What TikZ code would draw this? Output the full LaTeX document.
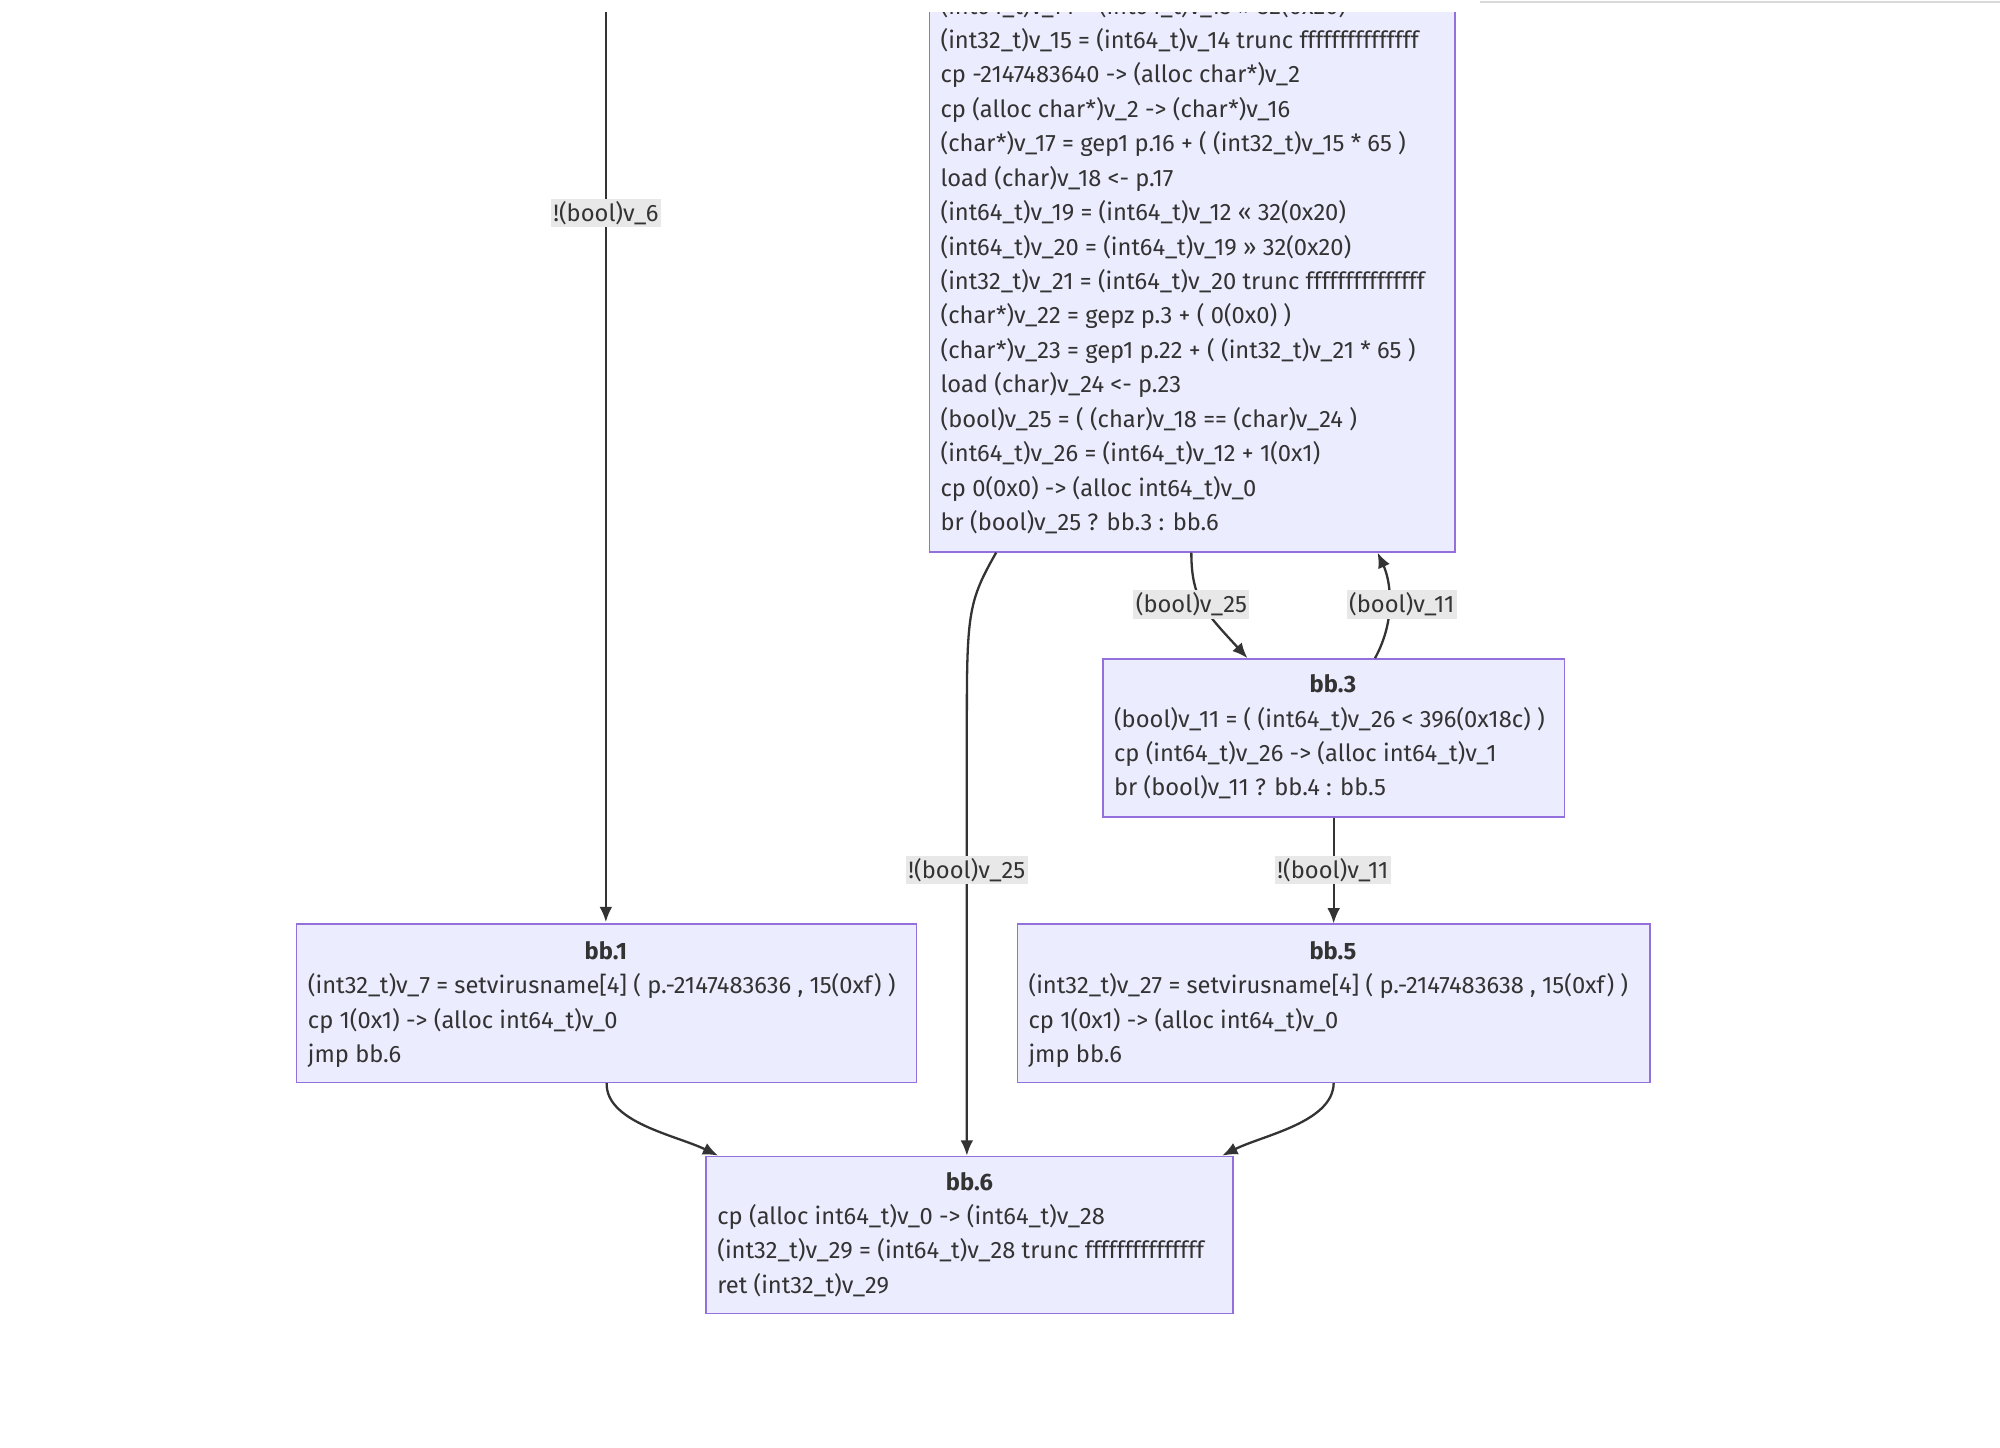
\documentclass[tikz,border=0pt]{standalone}
\usepackage{fontspec}
\setmainfont{Fira Sans}
\usetikzlibrary{arrows.meta}
\definecolor{boxfill}{HTML}{ECECFF}
\definecolor{boxline}{HTML}{9370DB}
\definecolor{edge}{HTML}{333333}
\definecolor{lblbg}{HTML}{E8E8E8}
\begin{document}
\begin{tikzpicture}[x=0.5pt,y=-0.5pt,
  blk/.style={draw=boxline,fill=boxfill,line width=0.6pt,inner sep=0pt,anchor=north west},
  ttl/.style={font=\fontsize{9.3}{13.5}\selectfont\bfseries,text=edge,anchor=base,inner sep=0pt},
  body/.style={font=\fontsize{9.3}{13.5}\selectfont,text=edge,align=left,anchor=base west,inner sep=0pt},
  lbl/.style={font=\fontsize{9.3}{10}\selectfont,text=edge,fill=lblbg,inner sep=1pt},
  arr/.style={draw=edge,line width=0.9pt,-{Latex[length=6pt,width=5pt]}}]
\useasboundingbox (0,0) rectangle (1568,1135);
\draw[gray!30,line width=0.8pt] (1160,1.5) -- (1568,1.5);
\begin{scope}
\clip (0,10) rectangle (1568,1135);
% top block
\node[blk,minimum width=206pt,minimum height=236pt] (top) at (728,-40) {};
\node[body] (topt) at (737,416) {(int64\_t)v\_14 = (int64\_t)v\_13 >> 32(0x20)\\
(int32\_t)v\_15 = (int64\_t)v\_14 trunc fffffffffffffff\\
cp -2147483640 -> (alloc char*)v\_2\\
cp (alloc char*)v\_2 -> (char*)v\_16\\
(char*)v\_17 = gep1 p.16 + ( (int32\_t)v\_15 * 65 )\\
load (char)v\_18 <- p.17\\
(int64\_t)v\_19 = (int64\_t)v\_12 << 32(0x20)\\
(int64\_t)v\_20 = (int64\_t)v\_19 >> 32(0x20)\\
(int32\_t)v\_21 = (int64\_t)v\_20 trunc fffffffffffffff\\
(char*)v\_22 = gepz p.3 + ( 0(0x0) )\\
(char*)v\_23 = gep1 p.22 + ( (int32\_t)v\_21 * 65 )\\
load (char)v\_24 <- p.23\\
(bool)v\_25 = ( (char)v\_18 == (char)v\_24 )\\
(int64\_t)v\_26 = (int64\_t)v\_12 + 1(0x1)\\
cp 0(0x0) -> (alloc int64\_t)v\_0\\
br (bool)v\_25 ? bb.3 : bb.6};
\coordinate (src6) at (475,-40);
\draw[arr] (src6) -- (475,723) coordinate (dst1);
\end{scope}
% bb.3
\node[blk,minimum width=181pt,minimum height=62pt] (bb3) at (864,516) {};
\node[ttl] (bb3t) at (1045,543) {bb.3};
\node[body] (bb3b) at (873,624) {(bool)v\_11 = ( (int64\_t)v\_26 < 396(0x18c) )\\
cp (int64\_t)v\_26 -> (alloc int64\_t)v\_1\\
br (bool)v\_11 ? bb.4 : bb.5};
% bb.1
\node[blk,minimum width=243pt,minimum height=62pt] (bb1) at (232,724) {};
\node[ttl] (bb1t) at (475,752) {bb.1};
\node[body] (bb1b) at (241,833) {(int32\_t)v\_7 = setvirusname[4] ( p.-2147483636 , 15(0xf) )\\
cp 1(0x1) -> (alloc int64\_t)v\_0\\
jmp bb.6};
% bb.5
\node[blk,minimum width=248pt,minimum height=62pt] (bb5) at (797,724) {};
\node[ttl] (bb5t) at (1045,752) {bb.5};
\node[body] (bb5b) at (806,833) {(int32\_t)v\_27 = setvirusname[4] ( p.-2147483638 , 15(0xf) )\\
cp 1(0x1) -> (alloc int64\_t)v\_0\\
jmp bb.6};
% bb.6
\node[blk,minimum width=206.5pt,minimum height=61.5pt] (bb6) at (553,906) {};
\node[ttl] (bb6t) at (760,933) {bb.6};
\node[body] (bb6b) at (562,1014) {cp (alloc int64\_t)v\_0 -> (int64\_t)v\_28\\
(int32\_t)v\_29 = (int64\_t)v\_28 trunc fffffffffffffff\\
ret (int32\_t)v\_29};
% edges
\draw[arr] ([xshift=26.5pt]top.south west) .. controls (760,470) and (758,480) .. (758,560) -- ([xshift=102.5pt]bb6.north west);
\draw[arr] ([xshift=103pt]top.south west) .. controls (934,470) and (945,480) .. ([xshift=57pt]bb3.north west);
\draw[arr] ([xshift=107pt]bb3.north west) .. controls (1095,485) and (1090,455) .. ([xshift=176pt]top.south west);
\draw[arr] (bb3.south) -- (bb5.north);
\draw[arr] (bb1.south) .. controls (475,880) and (530,890) .. ([xshift=5pt]bb6.north west);
\draw[arr] (bb5.south) .. controls (1045,880) and (990,890) .. ([xshift=-4.5pt]bb6.north east);
% labels
\node[lbl] (l6) at (475,167) {!(bool)v\_6};
\node[lbl] (l25n) at (758,682) {!(bool)v\_25};
\node[lbl] (l25) at (934,474) {(bool)v\_25};
\node[lbl] (l11) at (1099,474) {(bool)v\_11};
\node[lbl] (l11n) at (1045,682) {!(bool)v\_11};
\end{tikzpicture}
\end{document}
